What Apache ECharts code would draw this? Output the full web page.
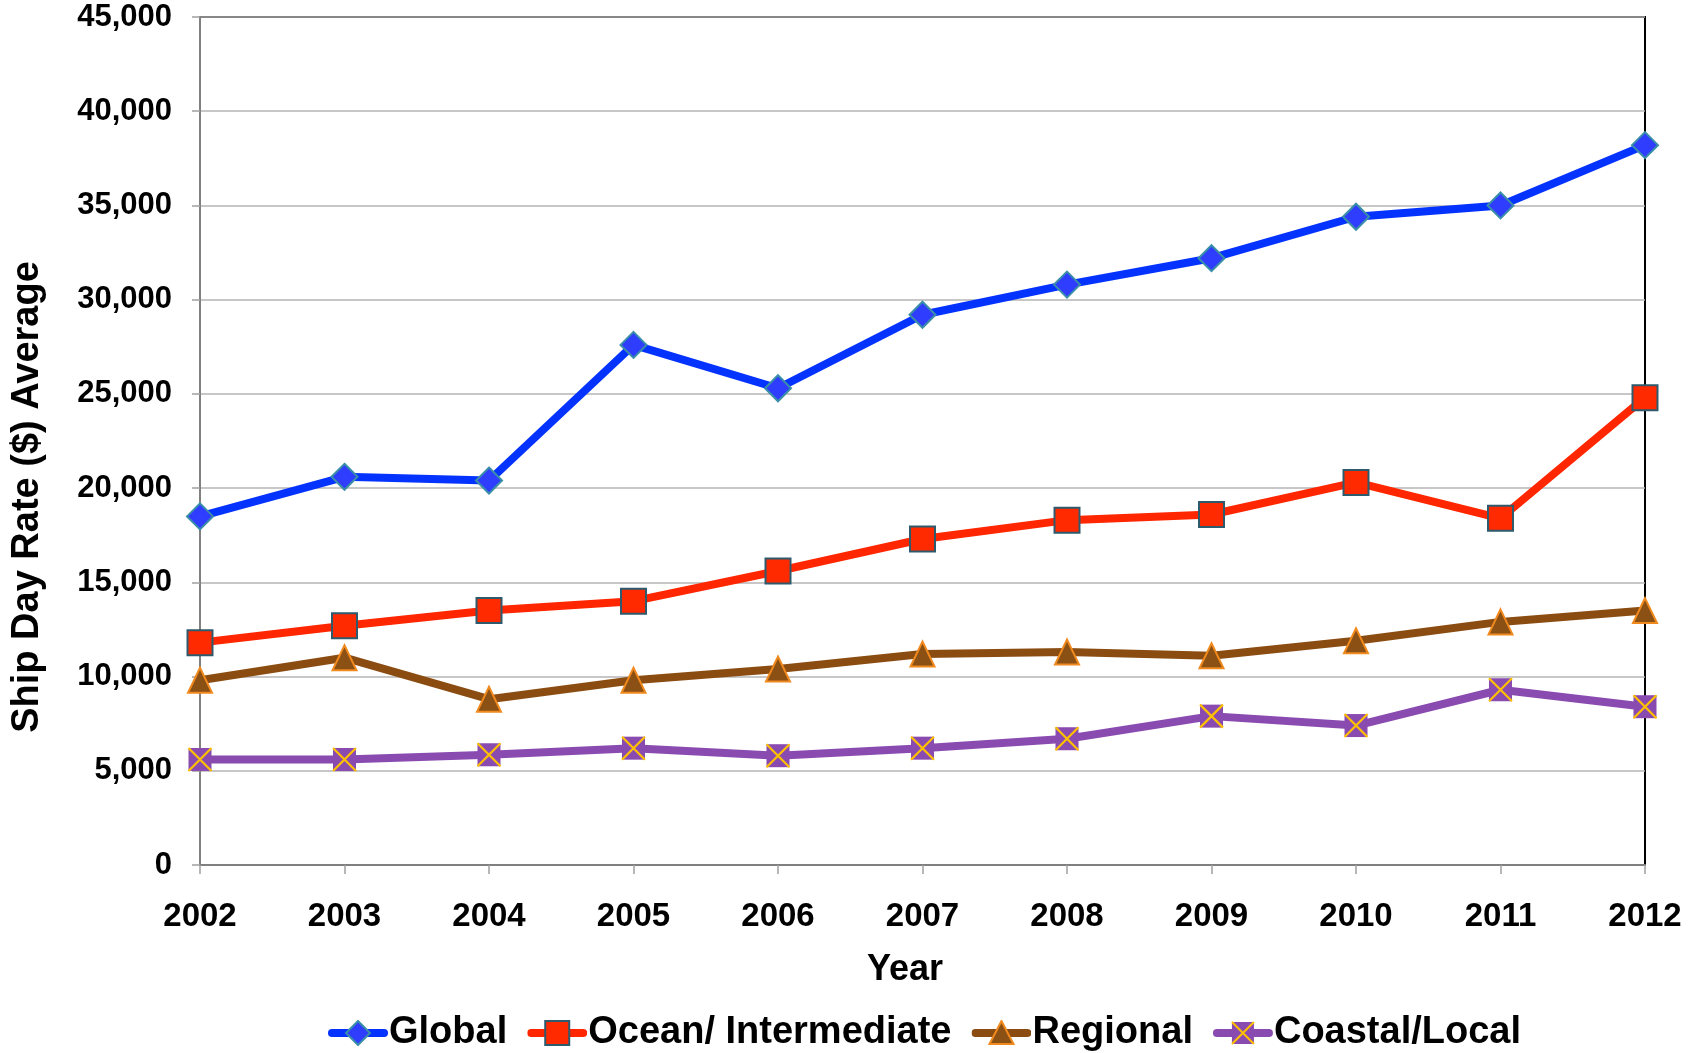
<!DOCTYPE html>
<html><head><meta charset="utf-8">
<script src="https://cdn.jsdelivr.net/npm/echarts@6/dist/echarts.min.js"></script>
<style>html,body{margin:0;padding:0;background:#fff}#c{width:1696px;height:1053px}</style>
</head><body><div id="c"></div>
<script>
const years = ['2002','2003','2004','2005','2006','2007','2008','2009','2010','2011','2012'];
const globalRate = [18500,20600,20400,27600,25300,29200,30800,32200,34400,35000,38200];
const oceanRate = [11800,12700,13500,14000,15600,17300,18300,18600,20300,18400,24800];
const regionalRate = [9800,11000,8800,9800,10400,11200,11300,11100,11900,12900,13500];
const coastalRate = [5600,5600,5850,6200,5800,6200,6700,7900,7400,9300,8400];
const seriesNames = ['Global','Ocean/ Intermediate','Regional','Coastal/Local'];
const yTitle = 'Ship Day Rate ($) Average';
const xTitle = 'Year';

const arial = '"Liberation Sans",Arial,sans-serif';

function svgIcon(inner){
  const s = "<svg xmlns='http://www.w3.org/2000/svg' width='60' height='26' viewBox='0 0 60 26'>" + inner + "</svg>";
  return 'image://data:image/svg+xml;charset=utf-8,' + encodeURIComponent(s);
}
const icons = [
  svgIcon("<line x1='4' y1='13' x2='56' y2='13' stroke='#0433ff' stroke-width='8' stroke-linecap='round'/><path d='M30,1L42,13L30,25L18,13Z' fill='#2f3dff' stroke='#3a8ea8' stroke-width='2'/>"),
  svgIcon("<line x1='4' y1='13' x2='56' y2='13' stroke='#ff2600' stroke-width='8' stroke-linecap='round'/><rect x='18' y='1' width='24' height='24' fill='#ff2a00' stroke='#2e5a6e' stroke-width='2'/>"),
  svgIcon("<line x1='4' y1='13' x2='56' y2='13' stroke='#8b4c11' stroke-width='8' stroke-linecap='round'/><path d='M30,1L42,24L18,24Z' fill='#8b5014' stroke='#f0891e' stroke-width='2'/>"),
  svgIcon("<line x1='4' y1='13' x2='56' y2='13' stroke='#8a4bb0' stroke-width='8' stroke-linecap='round'/><rect x='19' y='2' width='22' height='22' fill='#8a4bb0'/><path d='M19,2L41,24M41,2L19,24' stroke='#ffc000' stroke-width='2'/>")
];

const chart = echarts.init(document.getElementById('c'), null, {renderer:'canvas'});
const lineBase = {type:'line', z:3};
chart.setOption({
  animation:false,
  backgroundColor:'#fff',
  grid:{left:200,right:51,top:17,bottom:188,show:true,borderColor:'#000',borderWidth:2,backgroundColor:'transparent'},
  legend:{
    left:328, top:1014, padding:0, itemWidth:60, itemHeight:26, itemGap:20,
    textStyle:{fontFamily:arial,fontWeight:'bold',fontSize:38,color:'#000',padding:[0,0,0,-4]},
    data: seriesNames.map((n,i)=>({name:n, icon:icons[i]}))
  },
  xAxis:{
    type:'category', data:years, boundaryGap:false,
    axisLine:{show:true,lineStyle:{color:'#808080',width:2}},
    axisTick:{show:true,length:9,alignWithLabel:true,lineStyle:{color:'#a0a0a0',width:1.5}},
    axisLabel:{fontFamily:arial,fontWeight:'bold',fontSize:33,color:'#000',margin:35},
    splitLine:{show:false}
  },
  yAxis:{
    type:'value', min:0, max:45000, interval:5000,
    axisLine:{show:true,lineStyle:{color:'#808080',width:2}},
    axisTick:{show:true,length:8,lineStyle:{color:'#a0a0a0',width:1.5}},
    axisLabel:{fontFamily:arial,fontWeight:'bold',fontSize:31,color:'#000',margin:28,
      formatter:v=>v.toLocaleString('en-US')},
    splitLine:{show:true,lineStyle:{color:'#b5b5b5',width:1.5}}
  },
  graphic:[
    {type:'text',x:28,y:497,rotation:Math.PI/2,
      style:{text:yTitle,fontFamily:arial,fontWeight:'bold',fontSize:38,fill:'#000',align:'center',verticalAlign:'middle'}},
    {type:'text',x:905,y:970,
      style:{text:xTitle,fontFamily:arial,fontWeight:'bold',fontSize:36,fill:'#000',align:'center',verticalAlign:'middle'}}
  ],
  series:[
    Object.assign({},lineBase,{name:seriesNames[0],data:globalRate,color:'#0433ff',
      symbol:'diamond',symbolSize:26,itemStyle:{color:'#2f3dff',borderColor:'#3a8ea8',borderWidth:2},lineStyle:{width:8,color:'#0433ff'}}),
    Object.assign({},lineBase,{name:seriesNames[1],data:oceanRate,color:'#ff2600',
      symbol:'rect',symbolSize:25,itemStyle:{color:'#ff2a00',borderColor:'#2e5a6e',borderWidth:2},lineStyle:{width:8,color:'#ff2600'}}),
    Object.assign({},lineBase,{name:seriesNames[2],data:regionalRate,color:'#8b4c11',
      symbol:'triangle',symbolSize:[24,25],itemStyle:{color:'#8b5014',borderColor:'#f0891e',borderWidth:2},lineStyle:{width:8,color:'#8b4c11'}}),
    Object.assign({},lineBase,{name:seriesNames[3],data:coastalRate,color:'#8a4bb0',
      symbol:'rect',symbolSize:23,itemStyle:{color:'#8a4bb0',borderWidth:0},lineStyle:{width:8,color:'#8a4bb0'}}),
    {type:'line',name:'coastal-x',data:coastalRate,z:4,lineStyle:{width:0,opacity:0},
      symbol:'path://M0,0L10,10M10,0L0,10',symbolSize:23,
      itemStyle:{color:'none',borderColor:'#ffc000',borderWidth:2.2},silent:true}
  ]
});
</script></body></html>
